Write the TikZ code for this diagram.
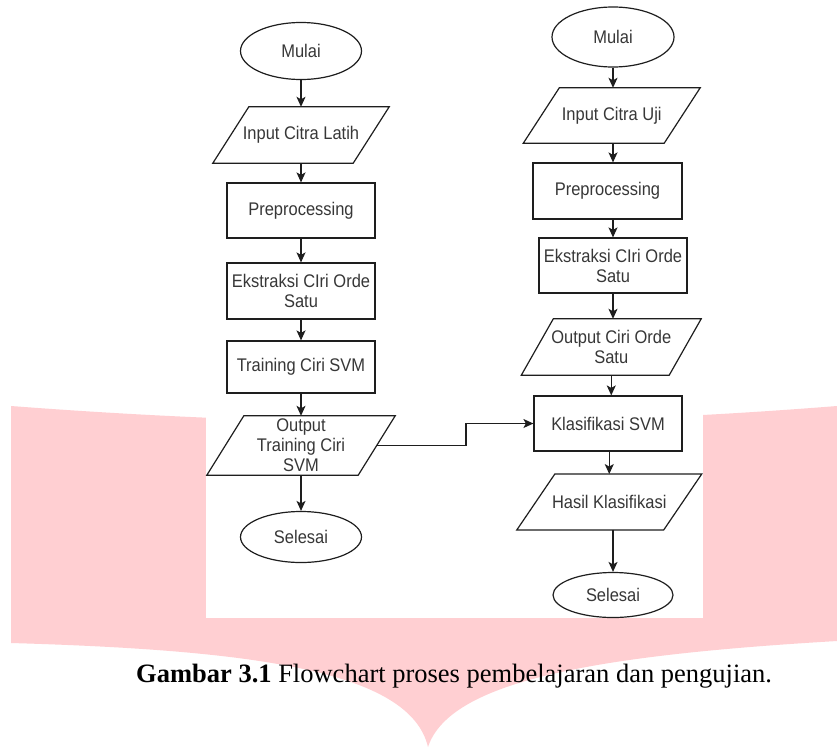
\documentclass[tikz,border=0pt]{standalone}
\usepackage{fontspec}
\setmainfont{Liberation Serif}
\newfontfamily\diagfont[FakeStretch=0.9]{Liberation Sans}
\usetikzlibrary{shapes.geometric,arrows.meta,calc}
\definecolor{wmpink}{RGB}{255,207,210}
\definecolor{ink}{RGB}{30,30,30}
\definecolor{txt}{RGB}{55,55,55}
\newcommand\ioshape[2]{\draw[shapeline] ([xshift=#2]#1.north west) -- ([xshift=#2]#1.north east) -- ([xshift=-#2]#1.south east) -- ([xshift=-#2]#1.south west) -- cycle;}
\begin{document}
\begin{tikzpicture}[x=1pt,y=-1pt,
  shapeline/.style={draw=ink,line width=1.2pt},
  base/.style={font=\diagfont\fontsize{18.3}{20}\selectfont, text=txt, inner sep=0pt, align=center},
  term/.style={base, ellipse, shapeline},
  proc/.style={base, rectangle, shapeline},
  io/.style={base, rectangle, draw=none},
  arr/.style={draw=ink, line width=1.2pt, -{Stealth[length=10pt,width=9pt,inset=2.5pt]}}]
\useasboundingbox (0,0) rectangle (837,747);
\fill[white] (0,0) rectangle (837,747);
% watermark
\fill[wmpink] (11,406) .. controls (300,428) and (560,428) .. (837,406)
  -- (837,641) .. controls (600,655) and (450,680) .. (428,747)
  .. controls (410,670) and (250,650) .. (11,643) -- cycle;
\fill[white] (206,0) rectangle (703,618);
% left column
\node[term,minimum width=121pt,minimum height=57pt] (m1) at (301,51) {Mulai};
\node[io,minimum width=140pt,minimum height=56pt] (i1) at (301,135) {Input Citra Latih};
\ioshape{i1}{18pt}
\node[proc,minimum width=148pt,minimum height=55pt] (p1) at (301,210.5) {Preprocessing};
\node[proc,minimum width=148pt,minimum height=56pt] (e1) at (301,291) {Ekstraksi CIri Orde\\Satu};
\node[proc,minimum width=148pt,minimum height=52pt] (t1) at (301,367) {Training Ciri SVM};
\node[io,minimum width=151pt,minimum height=59pt] (o1) at (301,445.5) {Output\\Training Ciri\\SVM};
\ioshape{o1}{18.5pt}
\node[term,minimum width=121pt,minimum height=51pt] (s1) at (301,537) {Selesai};
% right column
\node[term,minimum width=122pt,minimum height=60pt] (m2) at (613,37) {Mulai};
\node[io,minimum width=140.5pt,minimum height=55pt] (i2) at (611.75,115.5) {Input Citra Uji};
\ioshape{i2}{18pt}
\node[proc,minimum width=149pt,minimum height=56pt] (p2) at (607.5,191) {Preprocessing};
\node[proc,minimum width=148pt,minimum height=55pt] (e2) at (613,265.5) {Ekstraksi CIri Orde\\Satu};
\node[io,minimum width=147.5pt,minimum height=56pt] (o2) at (611.25,347) {Output Ciri Orde\\Satu};
\ioshape{o2}{16pt}
\node[proc,minimum width=148pt,minimum height=55pt] (k2) at (608,423.5) {Klasifikasi SVM};
\node[io,minimum width=146.5pt,minimum height=55.5pt] (h2) at (609.25,502) {Hasil Klasifikasi};
\ioshape{h2}{19pt}
\node[term,minimum width=120pt,minimum height=45pt] (s2) at (613,595) {Selesai};
% connectors left
\draw[arr] (m1.south) -- (i1.north);
\draw[arr] (i1.south) -- (p1.north);
\draw[arr] (p1.south) -- (e1.north);
\draw[arr] (e1.south) -- (t1.north);
\draw[arr] (t1.south) -- (o1.north);
\draw[arr] (o1.south) -- (s1.north);
% connectors right
\coordinate (cR) at (613,0);
\draw[arr] (m2.south -| cR) -- (i2.north -| cR);
\draw[arr] (i2.south -| cR) -- (p2.north -| cR);
\draw[arr] (p2.south -| cR) -- (e2.north -| cR);
\draw[arr] (e2.south -| cR) -- (o2.north -| cR);
\draw[arr] (o2.south) -- (o2.south |- k2.north);
\draw[arr] (k2.south -| h2) -- (h2.north);
\draw[arr] (h2.south -| cR) -- (s2.north);
% cross connector
\coordinate (jog) at (466,0);
\draw[arr] (o1.east) -- (o1.east -| jog) |- (k2.west);
% caption
\node[anchor=base west, inner sep=0pt, font=\fontsize{26.5}{30}\selectfont] (cap) at (136,682) {\textbf{Gambar 3.1} Flowchart proses pembelajaran dan pengujian.};
\end{tikzpicture}
\end{document}
